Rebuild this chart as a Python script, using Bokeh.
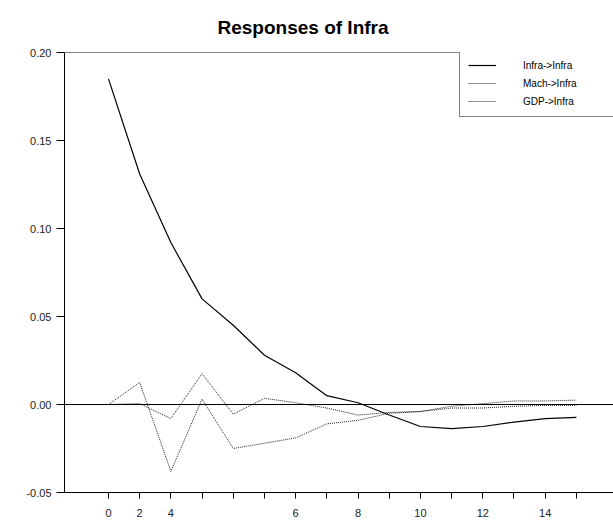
from bokeh.plotting import figure
from bokeh.models import Range1d, FixedTicker, Span, Legend, LegendItem, NumeralTickFormatter
from bokeh.embed import file_html
from bokeh.resources import INLINE

# ---- data ----
horizon = list(range(16))
infra_infra = [0.185, 0.131, 0.092, 0.060, 0.045, 0.028, 0.018, 0.005, 0.001,
               -0.006, -0.0125, -0.0137, -0.0125, -0.010, -0.008, -0.0073]
mach_infra = [0.0, 0.0125, -0.038, 0.003, -0.025, -0.022, -0.019, -0.011, -0.009,
              -0.005, -0.004, -0.001, 0.0005, 0.002, 0.002, 0.0025]
gdp_infra = [0.0, 0.0005, -0.008, 0.0175, -0.0055, 0.0035, 0.001, -0.002, -0.006,
             -0.0045, -0.004, -0.002, -0.002, -0.001, -0.0005, -0.0005]
series_names = ["Infra->Infra", "Mach->Infra", "GDP->Infra"]
x_tick_labels = ["0", "2", "4", "", "", "", "6", "", "8", "", "10", "", "12", "", "14", ""]
y_ticks = [-0.05, 0.0, 0.05, 0.10, 0.15, 0.20]

FONT = "Liberation Sans"

p = figure(width=613, height=525, output_backend="svg", toolbar_location=None,
           x_range=Range1d(-1.41, 16.19), y_range=Range1d(-0.05, 0.20),
           min_border_left=64, min_border_right=0, min_border_top=51, min_border_bottom=33)
p.outline_line_color = None
p.xgrid.visible = False
p.ygrid.visible = False
p.background_fill_color = "white"
p.border_fill_color = "white"

p.title.text = "Responses of Infra"
p.title.align = "left"
p.title.offset = 153
p.title.text_font = FONT
p.title.text_font_size = "19px"
p.title.text_font_style = "bold"
p.title.text_color = "black"
p.title.standoff = 29

# y axis
ya = p.yaxis[0]
ya.ticker = FixedTicker(ticks=y_ticks)
ya.formatter = NumeralTickFormatter(format="0.00")
ya.major_tick_out = 8
ya.major_tick_in = 0
ya.minor_tick_out = 0
ya.minor_tick_in = 0
ya.major_label_standoff = 5
ya.major_label_text_font = FONT
ya.major_label_text_font_size = "11px"
ya.major_label_text_color = "#222222"
ya.axis_line_color = "black"
ya.major_tick_line_color = "black"

# x axis
xa = p.xaxis[0]
xa.ticker = FixedTicker(ticks=horizon)
xa.major_label_overrides = {h: lab for h, lab in zip(horizon, x_tick_labels)}
xa.major_tick_out = 6
xa.major_tick_in = 0
xa.minor_tick_out = 0
xa.minor_tick_in = 0
xa.major_label_standoff = 10
xa.major_label_text_font = FONT
xa.major_label_text_font_size = "11px"
xa.major_label_text_color = "#222222"
xa.axis_line_color = "black"
xa.major_tick_line_color = "black"

# top frame line and zero line
p.add_layout(Span(location=y_ticks[-1], dimension="width", line_color="black", line_width=1))
p.add_layout(Span(location=0, dimension="width", line_color="black", line_width=1))

r1 = p.line(horizon, infra_infra, line_color="black", line_width=1.2)
r2 = p.line(horizon, mach_infra, line_color="#222222", line_width=1, line_dash="1 1")
r3 = p.line(horizon, gdp_infra, line_color="#222222", line_width=1, line_dash="1 1")

legend = Legend(items=[LegendItem(label=series_names[0], renderers=[r1]),
                       LegendItem(label=series_names[1], renderers=[r2]),
                       LegendItem(label=series_names[2], renderers=[r3])],
                location=(395, 375), orientation="vertical",
                border_line_color="black", border_line_width=1,
                background_fill_color="white", background_fill_alpha=1,
                padding=8, spacing=4, margin=0,
                glyph_width=28, glyph_height=14, label_height=14, label_width=90,
                label_standoff=27, label_text_font=FONT, label_text_font_size="10px",
                label_text_color="black")
p.add_layout(legend, "center")

open("out.html", "w").write(file_html(p, INLINE))
